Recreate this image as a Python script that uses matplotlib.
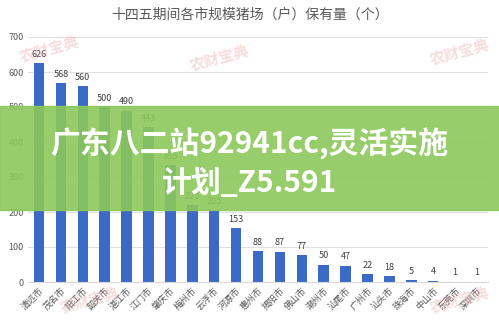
import matplotlib
matplotlib.use('Agg')
import matplotlib.pyplot as plt
from matplotlib.patches import Rectangle

plt.rcParams['font.family'] = ['Noto Sans CJK SC', 'DejaVu Sans']

cities = ['清远市', '茂名市', '阳江市', '韶关市', '湛江市', '江门市', '肇庆市',
          '梅州市', '云浮市', '河源市', '惠州市', '揭阳市', '佛山市', '潮州市',
          '汕尾市', '广州市', '汕头市', '珠海市', '中山市', '东莞市', '深圳市']
farms = [626, 568, 560, 500, 490, 443, 335, 220, 205, 153, 88, 87, 77, 50,
         47, 22, 18, 5, 4, 1, 1]
yticks = [0, 100, 200, 300, 400, 500, 600, 700]

title = '十四五期间各市规模猪场（户）保有量（个）'
banner = '广东八二站92941cc,灵活实施\n计划_Z5.591'

fig = plt.figure(figsize=(4.99, 3.22), dpi=100)
ax = fig.add_axes([28/499, 40/322, 460/499, 245/322])

x = range(len(cities))
ax.bar(x, farms, width=0.48, color='#3a69c6', zorder=2)
for i, v in zip(x, farms):
    ax.text(i, v + 12, str(v), ha='center', va='bottom', fontsize=6.5,
            color='#404040')

ax.set_xlim(-0.5, len(cities) - 0.5)
ax.set_ylim(0, 700)
ax.set_yticks(yticks)
ax.set_yticklabels([str(t) for t in yticks], fontsize=6.5, color='#595959')
ax.set_xticks(list(x))
ax.set_xticklabels(cities, rotation=45, ha='right', rotation_mode='anchor',
                   fontsize=6.5, color='#595959')
ax.tick_params(length=0, pad=3)
ax.grid(axis='y', color='#e0e0e0', lw=0.8, zorder=0)
for s in ['top', 'right', 'left']:
    ax.spines[s].set_visible(False)
ax.spines['bottom'].set_color('#d9d9d9')

fig.text(0.5, 1 - 15/322, title, ha='center', va='center', fontsize=10,
         color='#595959')

# faint watermarks
for (wx, wy) in [(0.10, 0.85), (0.44, 0.82), (0.92, 0.84), (0.18, 0.07),
                 (0.92, 0.07)]:
    fig.text(wx, wy, '农财宝典', ha='center', va='center', fontsize=11,
             fontweight='bold', color='#e8a0a0', alpha=0.35, rotation=15)

# green banner over the chart
fig.patches.append(Rectangle((0, 1 - 210/322), 1, 104/322,
                             transform=fig.transFigure, color='#8cc85a',
                             alpha=0.9, zorder=10))
fig.text(0.5, 1 - 163/322, banner, ha='center', va='center', fontsize=21.5,
         fontweight='bold', color='white', linespacing=1.3, zorder=11)

fig.savefig('out.png', dpi=100)
